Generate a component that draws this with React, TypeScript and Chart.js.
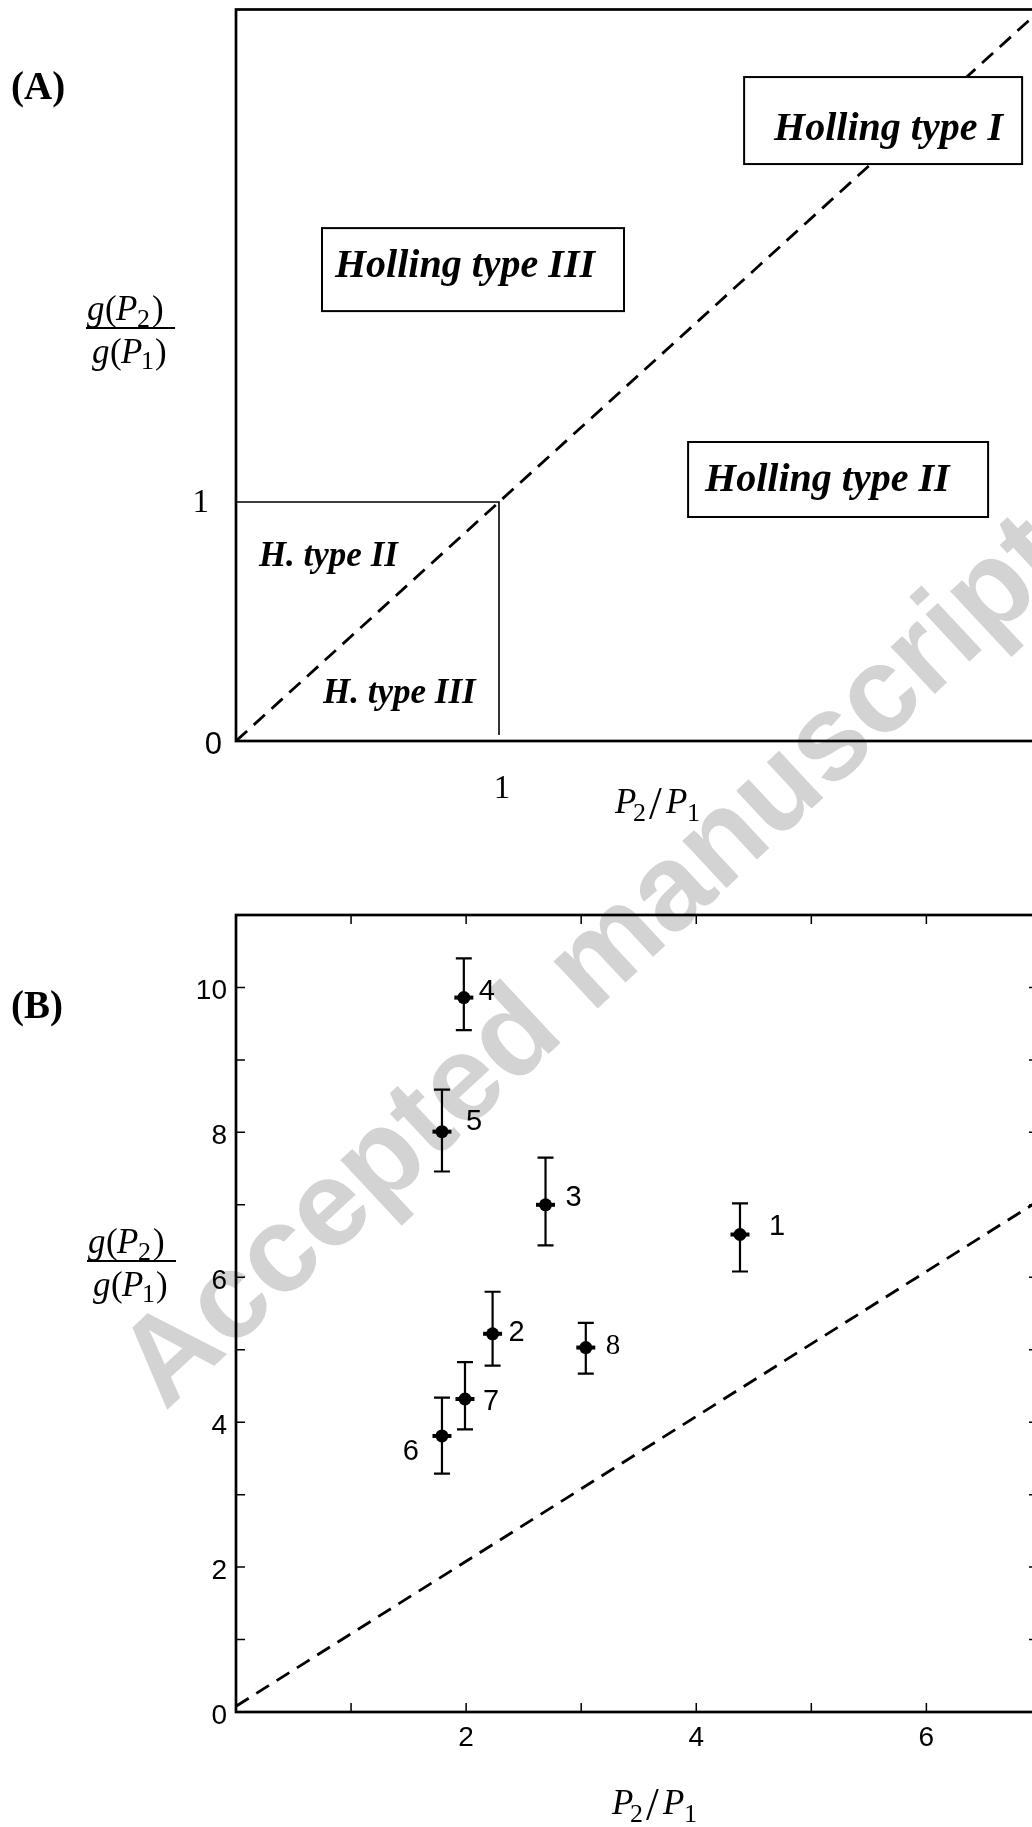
import React, { useEffect, useRef } from 'react';
import { Chart, registerables } from 'chart.js';

Chart.register(...registerables);

// ---------------- Panel (A) data ----------------
const diagonalX = [0, 3.2];
const diagonalY = [0, 3.2];
const unitBoxX = [0, 1, 1];
const unitBoxY = [1, 1, 0.025];
const panelAYTickValues = [0, 1];
const panelAYTickLabels = ['0', '1'];
const panelAXTickValues = [1];
const panelAXTickLabels = ['1'];
const regionNames = ['Holling type III', 'Holling type I', 'Holling type II'];
const subRegionNames = ['H. type II', 'H. type III'];

// ---------------- Panel (B) data ----------------
const studyIds = ['1', '2', '3', '4', '5', '6', '7', '8'];
const preyRatio = [4.38, 2.23, 2.69, 1.98, 1.79, 1.79, 1.99, 3.04];
const grazingRatio = [6.59, 5.22, 7.0, 9.86, 8.01, 3.81, 4.32, 5.03];
const grazingHigh = [7.02, 5.8, 7.65, 10.4, 8.59, 4.34, 4.83, 5.37];
const grazingLow = [6.08, 4.78, 6.44, 9.41, 7.46, 3.29, 3.9, 4.67];
const typeILineX = [0, 6.97];
const typeILineY = [0.08, 7.05];

// ---------------- layout / style (kept apart from data) ----------------
const CANVAS_W = 1100;
const A_TOP = -40;
const A_H = 880;
const B_TOP = 830;
const B_H = 997;

const regionBoxLayout = [
  { x: 0.327, y: 2.146, w: 302, h: 83, tx: 13, ty: 49 },
  { x: 1.932, y: 2.778, w: 278, h: 87, tx: 30, ty: 63 },
  { x: 1.719, y: 1.251, w: 300, h: 75, tx: 17, ty: 49 },
];
const subRegionLayout = [
  { x: 0.087, y: 0.732 },
  { x: 0.331, y: 0.159 },
];
const SERIF = '"Liberation Serif", "Times New Roman", serif';
const SANS = '"Liberation Sans", Arial, sans-serif';

const panelAYTickStyle = [
  { font: `31px ${SANS}`, dx: -14, dy: 4 },
  { font: `33px ${SERIF}`, dx: -27, dy: 1 },
];
const idLabelLayout = [
  { dx: 29, dy: -8, align: 'left', serif: false },
  { dx: 16, dy: -1, align: 'left', serif: false },
  { dx: 20, dy: -7, align: 'left', serif: false },
  { dx: 15, dy: -6, align: 'left', serif: false },
  { dx: 24, dy: -10, align: 'left', serif: false },
  { dx: -23, dy: 16, align: 'right', serif: false },
  { dx: 18, dy: 3, align: 'left', serif: false },
  { dx: 20, dy: -1, align: 'left', serif: true },
];

function drawFraction(ctx: CanvasRenderingContext2D, x: number, yLine: number) {
  ctx.save();
  ctx.fillStyle = '#000';
  ctx.textAlign = 'left';
  ctx.textBaseline = 'alphabetic';
  const it = `italic 35px ${SERIF}`;
  const up = `35px ${SERIF}`;
  const sub = `26px ${SERIF}`;
  const nb = yLine - 8;
  const db = yLine + 35;
  ctx.font = it; ctx.fillText('g', x + 1, nb);
  ctx.font = up; ctx.fillText('(', x + 19, nb);
  ctx.font = it; ctx.fillText('P', x + 30, nb);
  ctx.font = sub; ctx.fillText('2', x + 51, nb + 7);
  ctx.font = up; ctx.fillText(')', x + 66, nb);
  ctx.fillRect(x, yLine - 1, 89, 2);
  ctx.font = it; ctx.fillText('g', x + 6, db);
  ctx.font = up; ctx.fillText('(', x + 24, db);
  ctx.font = it; ctx.fillText('P', x + 35, db);
  ctx.font = sub; ctx.fillText('1', x + 55, db + 6);
  ctx.font = up; ctx.fillText(')', x + 69, db);
  ctx.restore();
}

function drawRatioTitle(ctx: CanvasRenderingContext2D, x: number, base: number) {
  ctx.save();
  ctx.fillStyle = '#000';
  ctx.textAlign = 'left';
  ctx.textBaseline = 'alphabetic';
  ctx.font = `italic 35px ${SERIF}`; ctx.fillText('P', x, base);
  ctx.font = `26px ${SERIF}`; ctx.fillText('2', x + 18, base + 8);
  ctx.font = `46px ${SERIF}`; ctx.fillText('/', x + 34, base + 6);
  ctx.font = `italic 35px ${SERIF}`; ctx.fillText('P', x + 51, base);
  ctx.font = `26px ${SERIF}`; ctx.fillText('1', x + 72, base + 8);
  ctx.restore();
}

function drawPanelLetter(ctx: CanvasRenderingContext2D, text: string, x: number, yMid: number) {
  ctx.save();
  ctx.fillStyle = '#000';
  ctx.font = `bold 39px ${SERIF}`;
  ctx.textAlign = 'left';
  ctx.textBaseline = 'middle';
  ctx.fillText(text, x, yMid);
  ctx.restore();
}

function buildConfigA(): any {
  const panelAPlugin = {
    id: 'panelAPlugin',
    afterDatasetsDraw(chart: any) {
      const { ctx, scales } = chart;
      const xs = scales.x;
      const ys = scales.y;
      ctx.save();
      regionNames.forEach((name, i) => {
        const b = regionBoxLayout[i];
        const bx = xs.getPixelForValue(b.x);
        const by = ys.getPixelForValue(b.y);
        ctx.fillStyle = '#fff';
        ctx.fillRect(bx, by, b.w, b.h);
        ctx.lineWidth = 2;
        ctx.strokeStyle = '#000';
        ctx.strokeRect(bx, by, b.w, b.h);
        ctx.fillStyle = '#000';
        ctx.font = `italic bold 40px ${SERIF}`;
        ctx.textAlign = 'left';
        ctx.textBaseline = 'alphabetic';
        ctx.fillText(name, bx + b.tx, by + b.ty);
      });
      subRegionNames.forEach((name, i) => {
        const p = subRegionLayout[i];
        ctx.fillStyle = '#000';
        ctx.font = `italic bold 35px ${SERIF}`;
        ctx.textAlign = 'left';
        ctx.textBaseline = 'alphabetic';
        ctx.fillText(name, xs.getPixelForValue(p.x), ys.getPixelForValue(p.y));
      });
      ctx.restore();
    },
    afterDraw(chart: any) {
      const { ctx, chartArea: ca, scales } = chart;
      const xs = scales.x;
      const ys = scales.y;
      ctx.save();
      ctx.strokeStyle = '#000';
      ctx.lineWidth = 2.7;
      ctx.strokeRect(ca.left, ca.top, ca.right - ca.left, ca.bottom - ca.top);
      ctx.fillStyle = '#000';
      ctx.textAlign = 'right';
      ctx.textBaseline = 'middle';
      panelAYTickValues.forEach((v, i) => {
        const st = panelAYTickStyle[i];
        ctx.font = st.font;
        ctx.fillText(panelAYTickLabels[i], ca.left + st.dx, ys.getPixelForValue(v) + st.dy);
      });
      ctx.textAlign = 'center';
      ctx.font = `33px ${SERIF}`;
      panelAXTickValues.forEach((v, i) => {
        ctx.fillText(panelAXTickLabels[i], xs.getPixelForValue(v) + 3, ca.bottom + 48);
      });
      ctx.restore();
      drawFraction(ctx, 86, 328 - A_TOP);
      drawRatioTitle(ctx, 615, 813 - A_TOP);
      drawPanelLetter(ctx, '(A)', 11, 89 - A_TOP);
    },
  };

  return {
    type: 'scatter',
    data: {
      datasets: [
        {
          data: diagonalX.map((x, i) => ({ x, y: diagonalY[i] })),
          showLine: true,
          borderColor: '#000',
          borderWidth: 2.8,
          borderDash: [15, 9],
          pointRadius: 0,
          fill: false,
        },
        {
          data: unitBoxX.map((x, i) => ({ x, y: unitBoxY[i] })),
          showLine: true,
          borderColor: '#000',
          borderWidth: 1.6,
          pointRadius: 0,
          fill: false,
        },
      ],
    },
    options: {
      animation: false,
      responsive: false,
      devicePixelRatio: 1,
      events: [],
      layout: { padding: { left: 236, top: 9.5 - A_TOP, right: CANVAS_W - 1045, bottom: A_H - (741 - A_TOP) } },
      plugins: { legend: { display: false }, tooltip: { enabled: false } },
      scales: {
        x: { type: 'linear', min: 0, max: (1045 - 236) / 263, display: false },
        y: { type: 'linear', min: 0, max: (741 - 9.5) / 239, display: false },
      },
    },
    plugins: [panelAPlugin],
  };
}

function buildConfigB(): any {
  const panelBPlugin = {
    id: 'panelBPlugin',
    beforeDatasetsDraw(chart: any) {
      const { ctx, scales } = chart;
      const xs = scales.x;
      const ys = scales.y;
      ctx.save();
      ctx.strokeStyle = '#000';
      preyRatio.forEach((xv, i) => {
        const px = xs.getPixelForValue(xv);
        const hi = ys.getPixelForValue(grazingHigh[i]);
        const lo = ys.getPixelForValue(grazingLow[i]);
        ctx.lineWidth = 2.2;
        ctx.beginPath();
        ctx.moveTo(px, hi); ctx.lineTo(px, lo);
        ctx.moveTo(px - 8, hi); ctx.lineTo(px + 8, hi);
        ctx.moveTo(px - 8, lo); ctx.lineTo(px + 8, lo);
        ctx.stroke();
        const py = ys.getPixelForValue(grazingRatio[i]);
        ctx.lineWidth = 4;
        ctx.beginPath();
        ctx.moveTo(px - 9.5, py); ctx.lineTo(px + 9.5, py);
        ctx.stroke();
      });
      ctx.restore();
    },
    afterDatasetsDraw(chart: any) {
      const { ctx, scales } = chart;
      const xs = scales.x;
      const ys = scales.y;
      ctx.save();
      ctx.fillStyle = '#000';
      ctx.textBaseline = 'middle';
      studyIds.forEach((id, i) => {
        const l = idLabelLayout[i];
        ctx.font = l.serif ? `29px ${SERIF}` : `29px ${SANS}`;
        ctx.textAlign = l.align as CanvasTextAlign;
        ctx.fillText(id, xs.getPixelForValue(preyRatio[i]) + l.dx, ys.getPixelForValue(grazingRatio[i]) + l.dy);
      });
      ctx.restore();
    },
    afterDraw(chart: any) {
      const { ctx, chartArea: ca, scales } = chart;
      const xs = scales.x;
      const ys = scales.y;
      ctx.save();
      ctx.strokeStyle = '#000';
      ctx.lineWidth = 2.7;
      ctx.strokeRect(ca.left, ca.top, ca.right - ca.left, ca.bottom - ca.top);
      ctx.lineWidth = 1.5;
      const tl = 9;
      ctx.beginPath();
      xs.ticks
        .filter((t: any) => Number.isInteger(t.value) && t.value > xs.min && t.value < xs.max)
        .forEach((t: any) => {
          const px = xs.getPixelForValue(t.value);
          ctx.moveTo(px, ca.bottom); ctx.lineTo(px, ca.bottom - tl);
          ctx.moveTo(px, ca.top); ctx.lineTo(px, ca.top + tl);
        });
      ys.ticks
        .filter((t: any) => Number.isInteger(t.value) && t.value > ys.min && t.value < ys.max)
        .forEach((t: any) => {
          const py = ys.getPixelForValue(t.value);
          ctx.moveTo(ca.left, py); ctx.lineTo(ca.left + tl, py);
          ctx.moveTo(ca.right, py); ctx.lineTo(ca.right - tl, py);
        });
      ctx.stroke();
      ctx.restore();
      drawFraction(ctx, 87, 1261 - B_TOP);
      drawRatioTitle(ctx, 612, 1814 - B_TOP);
      drawPanelLetter(ctx, '(B)', 11, 1008 - B_TOP);
    },
  };

  return {
    type: 'scatter',
    data: {
      datasets: [
        {
          data: preyRatio.map((x, i) => ({ x, y: grazingRatio[i] })),
          showLine: false,
          pointStyle: 'circle',
          pointRadius: 6.5,
          pointBackgroundColor: '#000',
          pointBorderWidth: 0,
          borderColor: '#000',
        },
        {
          data: typeILineX.map((x, i) => ({ x, y: typeILineY[i] })),
          showLine: true,
          borderColor: '#000',
          borderWidth: 2.8,
          borderDash: [15, 9],
          pointRadius: 0,
          fill: false,
        },
      ],
    },
    options: {
      animation: false,
      responsive: false,
      devicePixelRatio: 1,
      events: [],
      layout: { padding: { left: 0, top: 915 - B_TOP, right: CANVAS_W - 1038, bottom: 0 } },
      plugins: { legend: { display: false }, tooltip: { enabled: false } },
      scales: {
        x: {
          type: 'linear',
          min: 0,
          max: 6.97,
          grid: { display: false, drawTicks: false },
          border: { display: false },
          ticks: {
            stepSize: 1,
            autoSkip: false,
            maxRotation: 0,
            padding: 9,
            color: '#000',
            font: { family: SANS, size: 28 },
            callback: (v: number) => (v > 0 && Number.isInteger(v) && v % 2 === 0 ? String(v) : ''),
          },
          afterFit: (s: any) => { s.height = B_H - (1712 - B_TOP); },
        },
        y: {
          type: 'linear',
          min: 0,
          max: 11,
          grid: { display: false, drawTicks: false },
          border: { display: false },
          ticks: {
            stepSize: 1,
            autoSkip: false,
            padding: 9,
            labelOffset: 4,
            color: '#000',
            font: { family: SANS, size: 28 },
            callback: (v: number) => (Number.isInteger(v) && v % 2 === 0 ? String(v) : ''),
          },
          afterFit: (s: any) => { s.width = 236; },
        },
      },
    },
    plugins: [panelBPlugin],
  };
}

export default function App() {
  const refA = useRef<HTMLCanvasElement>(null);
  const refB = useRef<HTMLCanvasElement>(null);

  useEffect(() => {
    const a = new Chart(refA.current as HTMLCanvasElement, buildConfigA());
    const b = new Chart(refB.current as HTMLCanvasElement, buildConfigB());
    return () => {
      a.destroy();
      b.destroy();
    };
  }, []);

  return (
    <div
      style={{
        position: 'absolute',
        left: 0,
        top: 0,
        width: 1032,
        height: 1827,
        overflow: 'hidden',
        background: '#fff',
      }}
    >
      <div
        style={{
          position: 'absolute',
          left: 590,
          top: 958,
          transform: 'translate(-50%, -50%) rotate(-43deg)',
          font: `bold 122px ${SANS}`,
          color: '#d3d3d3',
          whiteSpace: 'nowrap',
          lineHeight: 1,
        }}
      >
        Accepted manuscript
      </div>
      <canvas
        ref={refA}
        width={CANVAS_W}
        height={A_H}
        style={{ position: 'absolute', left: 0, top: A_TOP }}
      />
      <canvas
        ref={refB}
        width={CANVAS_W}
        height={B_H}
        style={{ position: 'absolute', left: 0, top: B_TOP }}
      />
    </div>
  );
}
